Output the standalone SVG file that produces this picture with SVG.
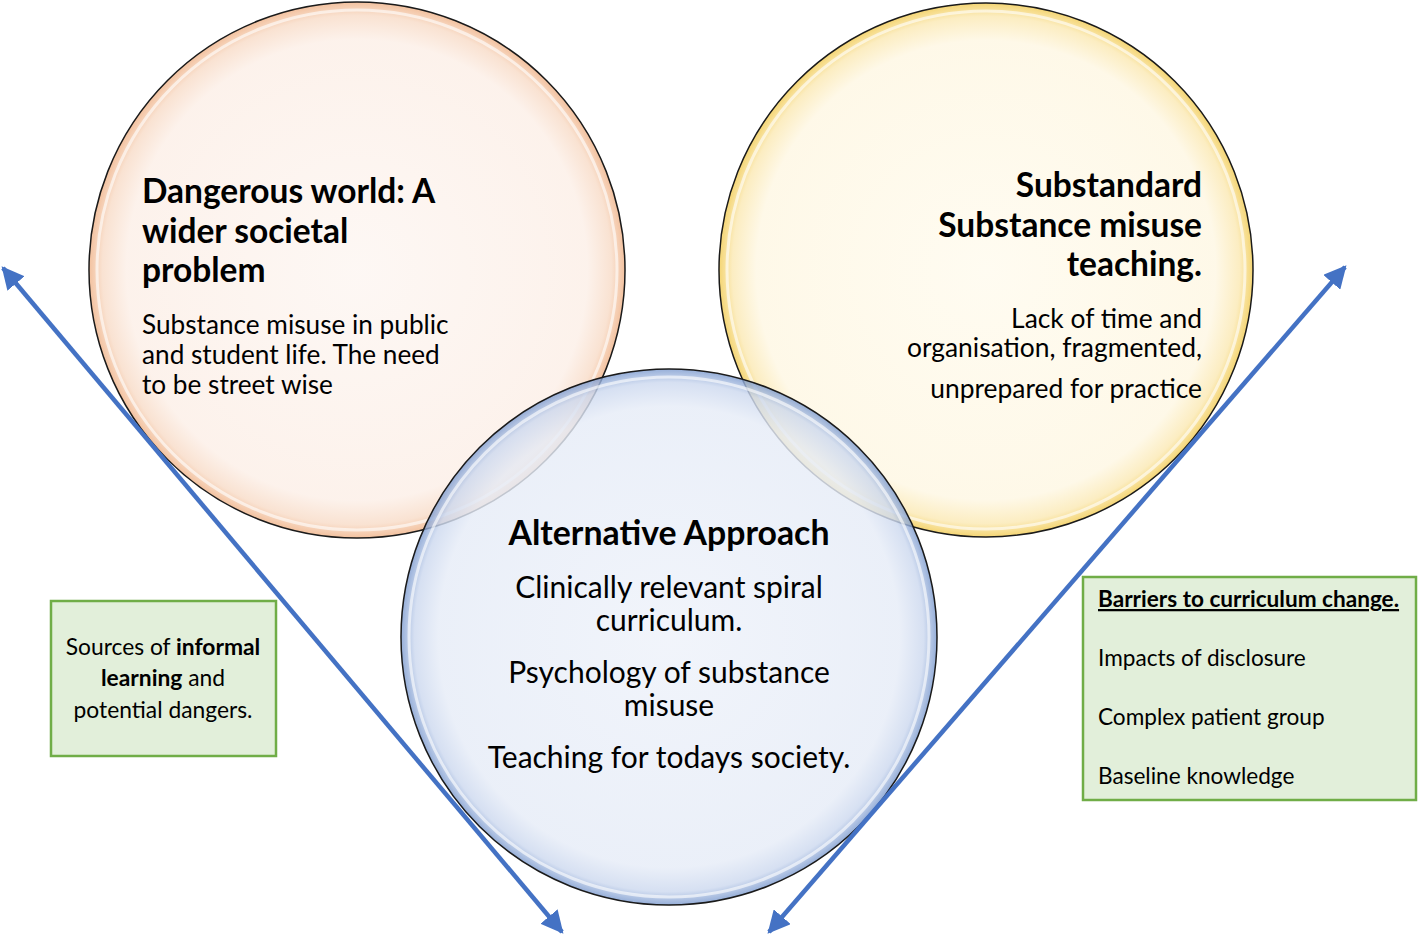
<svg xmlns="http://www.w3.org/2000/svg" width="1418" height="935" viewBox="0 0 1418 935">
<defs>
<radialGradient id="gPeach" cx="0.5" cy="0.5" r="0.5">
<stop offset="0" stop-color="#fdf6f2"/>
<stop offset="0.86" stop-color="#fcefe7"/>
<stop offset="0.95" stop-color="#f8dcc8"/>
<stop offset="1" stop-color="#f0b48a"/>
</radialGradient>
<radialGradient id="gYellow" cx="0.5" cy="0.5" r="0.5">
<stop offset="0" stop-color="#fffbee"/>
<stop offset="0.86" stop-color="#fef7e3"/>
<stop offset="0.95" stop-color="#fbe9b4"/>
<stop offset="1" stop-color="#f2cc55"/>
</radialGradient>
<radialGradient id="gBlue" cx="0.5" cy="0.5" r="0.5">
<stop offset="0" stop-color="#eef2fa"/>
<stop offset="0.86" stop-color="#e6ecf7"/>
<stop offset="0.95" stop-color="#cdd9ef"/>
<stop offset="1" stop-color="#7f9dd0"/>
</radialGradient>
<marker id="ah" viewBox="0 0 10 10" refX="9" refY="5" markerWidth="5" markerHeight="5" markerUnits="strokeWidth" orient="auto-start-reverse">
<path d="M0,0 L10,5 L0,10 z" fill="#4472c4"/>
</marker>
<style>
.circ{stroke:#1a1a1a;stroke-width:1.5;fill-opacity:0.82}
.hl{fill:none;stroke:#ffffff;stroke-opacity:0.6;stroke-width:3}
.conn{stroke:#4472c4;stroke-width:4.5;fill:none}
.box{fill:#e2efda;stroke:#70ad47;stroke-width:2.5}
.t{font-family:Lato,"Noto Sans",sans-serif;fill:#000}
.b{font-weight:bold}
</style>
</defs>
<g id="circle-dangerous">
<circle class="circ" cx="357" cy="270" r="268" fill="url(#gPeach)"/>
<circle class="hl" cx="357" cy="270" r="260"/>
</g>
<g id="circle-substandard">
<circle class="circ" cx="986" cy="270" r="267" fill="url(#gYellow)"/>
<circle class="hl" cx="986" cy="270" r="259"/>
</g>
<g id="circle-alternative">
<circle class="circ" cx="669" cy="637" r="268" fill="url(#gBlue)"/>
<circle class="hl" cx="669" cy="637" r="260"/>
</g>
<g id="connectors">
<line class="conn" x1="562" y1="932" x2="3" y2="268" marker-start="url(#ah)" marker-end="url(#ah)"/>
<line class="conn" x1="769" y1="932" x2="1345" y2="267" marker-start="url(#ah)" marker-end="url(#ah)"/>
</g>
<g id="text-dangerous" class="t">
<text class="b" font-size="33.5" x="142" y="203">Dangerous world: A</text>
<text class="b" font-size="33.5" x="142" y="243">wider societal</text>
<text class="b" font-size="33.5" x="142" y="282">problem</text>
<text font-size="26.2" x="142" y="334">Substance misuse in public</text>
<text font-size="26.2" x="142" y="364">and student life. The need</text>
<text font-size="26.2" x="142" y="394">to be street wise</text>
</g>
<g id="text-substandard" class="t" text-anchor="end">
<text class="b" font-size="33.5" x="1202" y="197">Substandard</text>
<text class="b" font-size="33.5" x="1202" y="237">Substance misuse</text>
<text class="b" font-size="33.5" x="1202" y="276">teaching.</text>
<text font-size="26.4" x="1202" y="328">Lack of time and</text>
<text font-size="26.4" x="1202" y="357">organisation, fragmented,</text>
<text font-size="26.4" x="1202" y="398">unprepared for practice</text>
</g>
<g id="text-alternative" class="t" text-anchor="middle">
<text class="b" font-size="33.8" x="669" y="545">Alternative Approach</text>
<text font-size="30" x="669" y="598">Clinically relevant spiral</text>
<text font-size="30" x="669" y="631">curriculum.</text>
<text font-size="30" x="669" y="683">Psychology of substance</text>
<text font-size="30" x="669" y="716">misuse</text>
<text font-size="30" x="669" y="768">Teaching for todays society.</text>
</g>
<g id="box-informal">
<rect class="box" x="51" y="601" width="225" height="155"/>
<g class="t" font-size="22.8" text-anchor="middle">
<text x="163" y="655">Sources of <tspan class="b">informal</tspan></text>
<text x="163" y="686"><tspan class="b">learning</tspan> and</text>
<text x="163" y="718">potential dangers.</text>
</g>
</g>
<g id="box-barriers">
<rect class="box" x="1083" y="577" width="333" height="223"/>
<g class="t" font-size="22.6">
<text class="b" x="1098" y="607" text-decoration="underline">Barriers to curriculum change.</text>
<text x="1098" y="666">Impacts of disclosure</text>
<text x="1098" y="725">Complex patient group</text>
<text x="1098" y="784">Baseline knowledge</text>
</g>
</g>
</svg>
